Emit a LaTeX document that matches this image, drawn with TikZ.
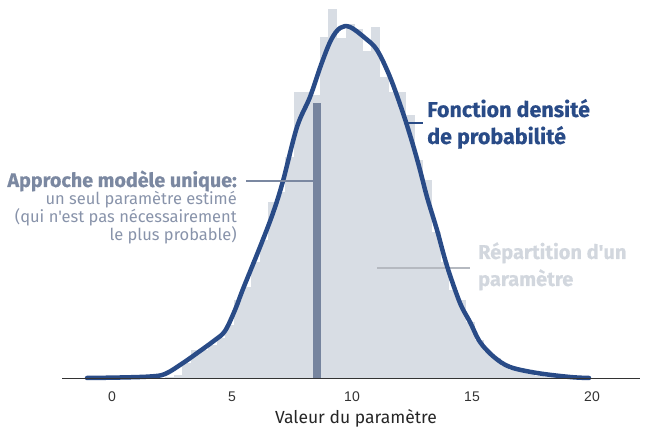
\documentclass[tikz,border=0pt]{standalone}
\usepackage{fontspec}
\setmainfont{Fira Sans}
\newfontfamily\ff{Fira Sans}
\newfontfamily\ffheavy{Fira Sans}[BoldFeatures={FakeBold=0.5}]
\newfontfamily\tickff{Liberation Sans}
\definecolor{curveblue}{HTML}{294B87}
\definecolor{histfill}{HTML}{D8DDE4}
\definecolor{estbar}{HTML}{76849E}
\definecolor{slate}{HTML}{7B88A1}
\definecolor{slatelight}{HTML}{8893AA}
\definecolor{paletext}{HTML}{D2D7DE}
\definecolor{paleline}{HTML}{B5B9C0}
\definecolor{axisgray}{HTML}{333333}
\begin{document}
\begin{tikzpicture}[x=1pt,y=-1pt,
  headtext/.style={inner sep=0pt, font=\ffheavy\fontsize{21.5}{21.5}\selectfont\bfseries},
  palehead/.style={inner sep=0pt, font=\ffheavy\fontsize{20}{20}\selectfont\bfseries},
  lefthead/.style={inner sep=0pt, font=\ffheavy\fontsize{19.7}{19.7}\selectfont\bfseries},
  subtext/.style={inner sep=0pt, text=slatelight, font=\ff\fontsize{16.5}{16.5}\selectfont},
  ticklabel/.style={inner sep=0pt, text=axisgray, font=\tickff\fontsize{14}{14}\selectfont},
  axistitle/.style={inner sep=0pt, text=black!85, font=\ff\fontsize{17.5}{17.5}\selectfont},
  densitycurve/.style={draw=curveblue, line width=4.5pt, line join=round, line cap=round},
  estimatebar/.style={fill=estbar, draw=none, inner sep=0pt, minimum width=8pt, minimum height=275pt},
  leader/.style={line width=1.3pt}
]
\useasboundingbox (0,0) rectangle (645,427);
% histogram
\foreach \l/\t in {165.0/377, 173.6/375, 182.2/363, 190.8/350, 199.4/350, 208.0/345,
  216.6/338, 225.2/325, 233.8/300, 242.4/287, 251.0/262, 259.6/240, 268.2/202,
  276.8/192, 285.4/157, 294.0/92, 302.6/92, 311.2/95, 319.8/37, 328.4/9, 337.0/38,
  345.6/24, 354.2/29, 362.8/51, 371.4/27, 380.0/77, 388.6/92, 397.2/92, 405.8/115,
  414.4/160, 423.0/180, 431.6/232, 440.2/262, 448.8/290, 457.4/300, 466.0/322,
  474.6/340, 483.2/352, 491.8/358, 500.4/366, 509.0/370, 517.6/372, 526.2/374,
  534.8/376, 543.4/377, 552.0/377}
  \fill[histfill] (\l,378) rectangle (\l+9.0,\t);
% single estimate bar
\node[estimatebar, anchor=south] (est) at (317,378) {};
% repartition leader (under curve)
\coordinate (rL) at (377,268);
\coordinate (rR) at (470,268);
\draw[leader, paleline] (rL) -- (rR);
% density curve
\draw[densitycurve] plot[smooth, tension=0.55] coordinates {
 (87,378) (120,377.5) (150,376.5) (165,374) (183,363) (200,351) (215,340) (225,331)
 (235,310) (243,289) (260,247) (273,213) (283,181) (297,127) (310,97) (321,65)
 (331,40) (340,28) (350,27) (365,38) (377,50) (390,77) (403,113) (413,145) (420,170)
 (427,197) (437,230) (447,266) (460,303) (470,322) (480,342) (494,357) (510,367)
 (537,373) (570,377) (589,378)};
% axis
\coordinate (axL) at (62,378.5);
\coordinate (axR) at (640,378.5);
\draw[axisgray, line width=1.5pt] (axL) -- (axR);
\foreach \v in {0,5,10,15,20}
  \node[ticklabel] (tick\v) at (112+24*\v,396.7) {\v};
\node[axistitle, anchor=base] (xtitle) at (356,423) {Valeur du paramètre};
% annotation: approche
\node[lefthead, text=slate, anchor=base east] (app1) at (237,187) {Approche modèle unique:};
\node[subtext, anchor=base east] (app2) at (237,205) {un seul paramètre estimé};
\node[subtext, anchor=base east] (app3) at (237,223) {(qui n'est pas nécessairement};
\node[subtext, anchor=base east] (app4) at (237,241) {le plus probable)};
\coordinate (aL) at (246,181);
\coordinate (aR) at (313,181);
\draw[leader, slate] (aL) -- (aR);
% annotation: fonction densite
\node[headtext, text=curveblue, anchor=base west] (fon1) at (427,117) {Fonction densité};
\node[headtext, text=curveblue, anchor=base west] (fon2) at (427,144) {de probabilité};
\coordinate (fL) at (405,123);
\coordinate (fR) at (423,123);
\draw[leader, curveblue] (fL) -- (fR);
% annotation: repartition
\node[palehead, text=paletext, anchor=base west] (rep1) at (478,259) {Répartition d'un};
\node[palehead, text=paletext, anchor=base west] (rep2) at (478,286) {paramètre};
\end{tikzpicture}
\end{document}
